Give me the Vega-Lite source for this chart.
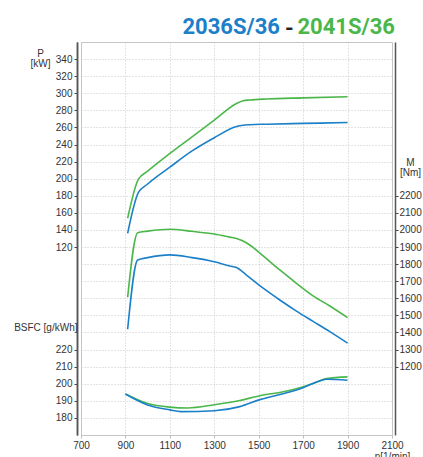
{
  "$schema": "https://vega.github.io/schema/vega-lite/v6.json",
  "width": 311,
  "height": 393,
  "autosize": {"type": "none"},
  "padding": {"left": 81, "top": 42, "right": 31, "bottom": 22},
  "background": "white",
  "title": {
    "text": "-", "orient": "top", "anchor": "start", "frame": "group", "align": "left",
    "font": "Roboto", "fontSize": 22, "fontWeight": "bold", "color": "#222",
    "dx": 204, "dy": 26, "offset": 0
  },
  "config": {
    "view": {"stroke": "#c4c4c4", "strokeWidth": 1},
    "axis": {
      "labelFont": "Liberation Sans", "labelFontSize": 10, "labelColor": "#333",
      "titleFont": "Liberation Sans", "titleFontSize": 10, "titleFontWeight": "normal", "titleColor": "#333",
      "gridColor": "#c8c8c8", "gridDash": [1, 2], "gridWidth": 1, "format": "d",
      "tickColor": "#444", "domainColor": "#555", "labelOverlap": false, "labelFlush": false
    },
    "line": {"strokeWidth": 1.6, "interpolate": "monotone"}
  },
  "datasets": {
    "power": [
      {"rpm": 910, "engine": "2041S/36", "value": 153.7},
      {"rpm": 958, "engine": "2041S/36", "value": 199.3},
      {"rpm": 1000, "engine": "2041S/36", "value": 208.8},
      {"rpm": 1100, "engine": "2041S/36", "value": 229.5},
      {"rpm": 1200, "engine": "2041S/36", "value": 249},
      {"rpm": 1300, "engine": "2041S/36", "value": 268.5},
      {"rpm": 1400, "engine": "2041S/36", "value": 288},
      {"rpm": 1430, "engine": "2041S/36", "value": 291.2},
      {"rpm": 1460, "engine": "2041S/36", "value": 292.1},
      {"rpm": 1535, "engine": "2041S/36", "value": 293.3},
      {"rpm": 1700, "engine": "2041S/36", "value": 294.6},
      {"rpm": 1900, "engine": "2041S/36", "value": 296},
      {"rpm": 910, "engine": "2036S/36", "value": 136},
      {"rpm": 958, "engine": "2036S/36", "value": 183.6},
      {"rpm": 1000, "engine": "2036S/36", "value": 193.8},
      {"rpm": 1100, "engine": "2036S/36", "value": 213.5},
      {"rpm": 1200, "engine": "2036S/36", "value": 232.5},
      {"rpm": 1300, "engine": "2036S/36", "value": 248},
      {"rpm": 1400, "engine": "2036S/36", "value": 261},
      {"rpm": 1430, "engine": "2036S/36", "value": 262.6},
      {"rpm": 1460, "engine": "2036S/36", "value": 263.2},
      {"rpm": 1535, "engine": "2036S/36", "value": 263.8},
      {"rpm": 1700, "engine": "2036S/36", "value": 264.7},
      {"rpm": 1900, "engine": "2036S/36", "value": 265.7}
    ],
    "torque": [
      {"rpm": 910, "engine": "2041S/36", "value": 1606},
      {"rpm": 955, "engine": "2041S/36", "value": 1984},
      {"rpm": 1000, "engine": "2041S/36", "value": 1993},
      {"rpm": 1100, "engine": "2041S/36", "value": 2004},
      {"rpm": 1200, "engine": "2041S/36", "value": 1992},
      {"rpm": 1300, "engine": "2041S/36", "value": 1976},
      {"rpm": 1370, "engine": "2041S/36", "value": 1958},
      {"rpm": 1400, "engine": "2041S/36", "value": 1950},
      {"rpm": 1430, "engine": "2041S/36", "value": 1935},
      {"rpm": 1460, "engine": "2041S/36", "value": 1912},
      {"rpm": 1520, "engine": "2041S/36", "value": 1848},
      {"rpm": 1595, "engine": "2041S/36", "value": 1766},
      {"rpm": 1670, "engine": "2041S/36", "value": 1688},
      {"rpm": 1745, "engine": "2041S/36", "value": 1614},
      {"rpm": 1820, "engine": "2041S/36", "value": 1555},
      {"rpm": 1900, "engine": "2041S/36", "value": 1487},
      {"rpm": 910, "engine": "2036S/36", "value": 1419},
      {"rpm": 955, "engine": "2036S/36", "value": 1824},
      {"rpm": 1000, "engine": "2036S/36", "value": 1838},
      {"rpm": 1100, "engine": "2036S/36", "value": 1854},
      {"rpm": 1200, "engine": "2036S/36", "value": 1838},
      {"rpm": 1300, "engine": "2036S/36", "value": 1814},
      {"rpm": 1370, "engine": "2036S/36", "value": 1789},
      {"rpm": 1400, "engine": "2036S/36", "value": 1780},
      {"rpm": 1445, "engine": "2036S/36", "value": 1736},
      {"rpm": 1520, "engine": "2036S/36", "value": 1659},
      {"rpm": 1595, "engine": "2036S/36", "value": 1590},
      {"rpm": 1670, "engine": "2036S/36", "value": 1525},
      {"rpm": 1745, "engine": "2036S/36", "value": 1465},
      {"rpm": 1820, "engine": "2036S/36", "value": 1405},
      {"rpm": 1900, "engine": "2036S/36", "value": 1338}
    ],
    "bsfc": [
      {"rpm": 900, "engine": "2041S/36", "value": 194},
      {"rpm": 1000, "engine": "2041S/36", "value": 188.4},
      {"rpm": 1100, "engine": "2041S/36", "value": 186.3},
      {"rpm": 1180, "engine": "2041S/36", "value": 185.8},
      {"rpm": 1300, "engine": "2041S/36", "value": 187.7},
      {"rpm": 1415, "engine": "2041S/36", "value": 190.2},
      {"rpm": 1505, "engine": "2041S/36", "value": 193},
      {"rpm": 1610, "engine": "2041S/36", "value": 195.3},
      {"rpm": 1700, "engine": "2041S/36", "value": 198.2},
      {"rpm": 1760, "engine": "2041S/36", "value": 200.9},
      {"rpm": 1805, "engine": "2041S/36", "value": 203},
      {"rpm": 1900, "engine": "2041S/36", "value": 204},
      {"rpm": 900, "engine": "2036S/36", "value": 194},
      {"rpm": 1000, "engine": "2036S/36", "value": 187.6},
      {"rpm": 1100, "engine": "2036S/36", "value": 184.7},
      {"rpm": 1150, "engine": "2036S/36", "value": 183.7},
      {"rpm": 1300, "engine": "2036S/36", "value": 184.2},
      {"rpm": 1415, "engine": "2036S/36", "value": 186.6},
      {"rpm": 1505, "engine": "2036S/36", "value": 190.7},
      {"rpm": 1610, "engine": "2036S/36", "value": 194.2},
      {"rpm": 1700, "engine": "2036S/36", "value": 197.7},
      {"rpm": 1760, "engine": "2036S/36", "value": 201},
      {"rpm": 1805, "engine": "2036S/36", "value": 202.6},
      {"rpm": 1900, "engine": "2036S/36", "value": 202}
    ]
  },
  "encoding": {
    "color": {
      "field": "engine", "type": "nominal",
      "scale": {"domain": ["2036S/36", "2041S/36"], "range": ["#1b80c8", "#4bb74b"]},
      "legend": null
    }
  },
  "layer": [
    {
      "data": {"name": "power"},
      "mark": {"type": "line"},
      "encoding": {
        "x": {
          "field": "rpm", "type": "quantitative",
          "scale": {"domain": [700, 2100], "nice": false, "zero": false},
          "axis": {
            "orient": "bottom",
            "values": [700, 900, 1100, 1300, 1500, 1700, 1900, 2100],
            "grid": true, "domain": false, "tickSize": 3, "tickColor": "#bbb", "labelPadding": 2,
            "title": "n[1/min]", "titleX": 311, "titleY": 16, "titleAlign": "center", "titleBaseline": "top"
          }
        },
        "y": {
          "field": "value", "type": "quantitative",
          "scale": {"domain": [-100, 360], "nice": false, "zero": false},
          "axis": {
            "orient": "left", "offset": 4,
            "values": [-100, -80, -60, -40, -20, 0, 20, 40, 60, 80, 100, 120, 140, 160, 180, 200, 220, 240, 260, 280, 300, 320, 340, 360],
            "grid": true,
            "labelExpr": "datum.value >= 120 && datum.value <= 340 ? datum.label : ''",
            "tickOpacity": {"condition": {"test": "datum.value < 120 || datum.value > 340", "value": 0}, "value": 1},
            "tickSize": 3, "labelPadding": 2, "domainWidth": 1.5,
            "title": ["P", "[kW]"], "titleAngle": 0, "titleAlign": "center", "titleBaseline": "top",
            "titleX": -37, "titleY": 6, "titleLineHeight": 10,
            "encode": {"domain": {"update": {"y": {"scale": "layer_0_y", "value": 340}, "y2": {"scale": "layer_0_y", "value": 120}}}}
          }
        }
      }
    },
    {
      "data": {"name": "torque"},
      "mark": {"type": "line"},
      "encoding": {
        "x": {
          "field": "rpm", "type": "quantitative",
          "axis": {
            "orient": "top", "labels": false, "ticks": false, "domain": false, "grid": false,
            "title": "2036S/36", "titleColor": "#1b80c8", "titleFont": "Roboto", "titleFontSize": 22, "titleFontWeight": "bold",
            "titleAlign": "left", "titleBaseline": "middle", "titleAngle": 0, "titleX": 101, "titleY": -16
          }
        },
        "y": {
          "field": "value", "type": "quantitative",
          "scale": {"domain": [800, 3100], "nice": false, "zero": false},
          "axis": {
            "orient": "right", "offset": 3,
            "values": [1200, 1300, 1400, 1500, 1600, 1700, 1800, 1900, 2000, 2100, 2200],
            "grid": false, "tickSize": 3, "labelPadding": 1, "domainWidth": 1.5,
            "title": ["M", "[Nm]"], "titleAngle": 0, "titleAlign": "center", "titleBaseline": "top",
            "titleX": 15, "titleY": 115, "titleLineHeight": 10,
            "encode": {"domain": {"update": {"y": {"scale": "layer_1_y", "value": 2200}, "y2": {"scale": "layer_1_y", "value": 1200}}}}
          }
        }
      }
    },
    {
      "data": {"name": "bsfc"},
      "mark": {"type": "line"},
      "encoding": {
        "x": {
          "field": "rpm", "type": "quantitative",
          "axis": {
            "orient": "top", "labels": false, "ticks": false, "domain": false, "grid": false,
            "title": "2041S/36", "titleColor": "#4bb74b", "titleFont": "Roboto", "titleFontSize": 22, "titleFontWeight": "bold",
            "titleAlign": "left", "titleBaseline": "middle", "titleAngle": 0, "titleX": 216, "titleY": -16
          }
        },
        "y": {
          "field": "value", "type": "quantitative",
          "scale": {"domain": [170, 400], "nice": false, "zero": false},
          "axis": {
            "orient": "left", "offset": 4,
            "values": [180, 190, 200, 210, 220],
            "grid": false, "tickSize": 3, "labelPadding": 2, "domainWidth": 1.5,
            "title": "BSFC [g/kWh]", "titleAngle": 0, "titleAlign": "right", "titleBaseline": "middle",
            "titleX": 0, "titleY": 285,
            "encode": {"domain": {"update": {"y": {"scale": "layer_2_y", "value": 220}, "y2": {"scale": "layer_2_y", "value": 180}}}}
          }
        }
      }
    }
  ],
  "resolve": {"scale": {"y": "independent"}, "axis": {"y": "independent", "x": "independent"}}
}
